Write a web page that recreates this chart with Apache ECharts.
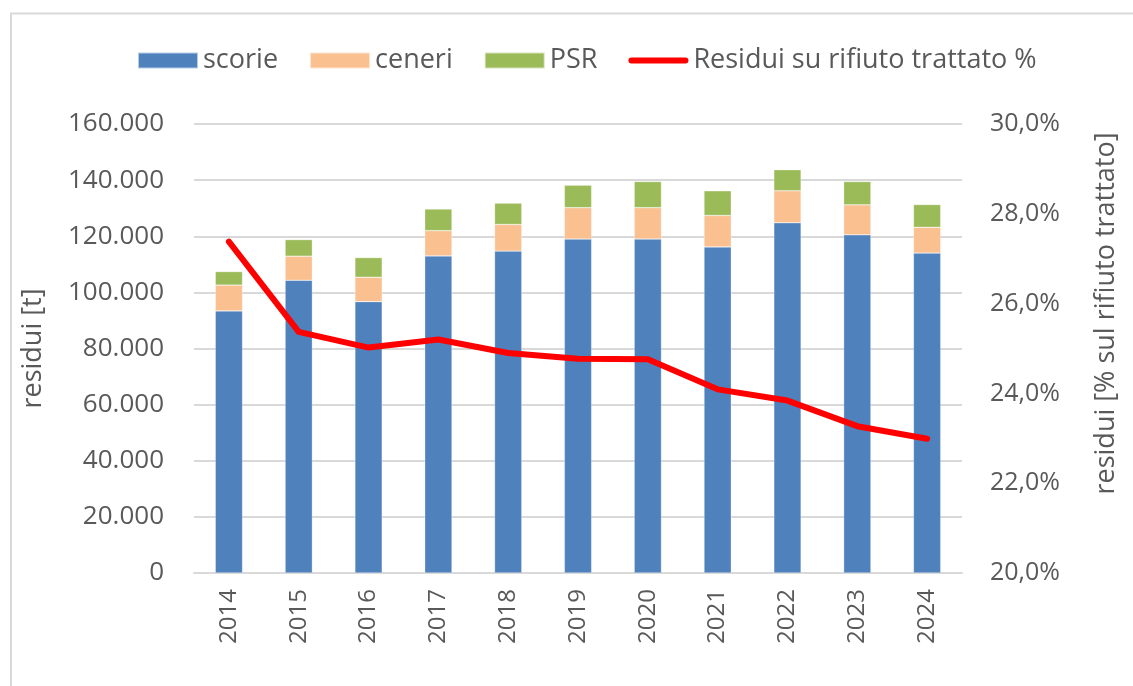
<!DOCTYPE html>
<html>
<head>
<meta charset="utf-8">
<script src="https://cdn.jsdelivr.net/npm/echarts@6/dist/echarts.min.js"></script>
<style>
  html, body { margin: 0; padding: 0; background: #fff; }
  #chart { width: 1133px; height: 686px; }
</style>
</head>
<body>
<div id="chart"></div>
<script>
const years = ['2014', '2015', '2016', '2017', '2018', '2019', '2020', '2021', '2022', '2023', '2024']
// tonnellate
const scorie = [93400, 104300, 96700, 113000, 114700, 119000, 119000, 116200, 124800, 120500, 114000]
const ceneri = [9200, 8600, 8700, 9000, 9500, 11200, 11200, 11200, 11400, 10700, 9200]
const psr = [4800, 5900, 7000, 7700, 7600, 8000, 9300, 8800, 7500, 8300, 8100]
// % sul rifiuto trattato
const residuiPct = [27.38, 25.37, 25.02, 25.2, 24.9, 24.77, 24.76, 24.09, 23.84, 23.27, 22.99]

const FONT = '"Open Sans", sans-serif'
const TEXT = '#595959'
const GRID = '#d9d9d9'

function fmtThousands(v) {
  return String(v).replace(/\B(?=(\d{3})+(?!\d))/g, '.')
}

const chart = echarts.init(document.getElementById('chart'), null, { renderer: 'canvas' })

const barStyle = (color) => ({ color, borderColor: 'rgba(255,255,255,0.6)', borderWidth: 0.5 })

chart.setOption({
  animation: false,
  textStyle: { fontFamily: FONT },
  graphic: [
    {
      type: 'rect',
      shape: { x: 11, y: 13.5, width: 1200, height: 800 },
      style: { fill: 'none', stroke: GRID, lineWidth: 2 },
      silent: true,
    },
  ],
  legend: {
    top: 42,
    left: 132,
    itemWidth: 60,
    itemHeight: 16,
    itemGap: 31,
    textStyle: { color: TEXT, fontSize: 27, fontFamily: FONT },
    data: [
      { name: 'scorie', icon: 'rect' },
      { name: 'ceneri', icon: 'rect' },
      { name: 'PSR', icon: 'rect' },
      {
        name: 'Residui su rifiuto trattato %',
        icon: 'path://M3,0 H57 A3,3 0 0 1 57,6 H3 A3,3 0 0 1 3,0 Z',
      },
    ],
  },
  grid: { left: 194, right: 171, top: 124, bottom: 113 },
  xAxis: {
    type: 'category',
    data: years,
    axisLine: { lineStyle: { color: GRID, width: 2 } },
    axisTick: { show: false },
    axisLabel: { rotate: 90, color: TEXT, fontSize: 24, margin: 16, fontFamily: FONT },
  },
  yAxis: [
    {
      type: 'value',
      min: 0,
      max: 160000,
      interval: 20000,
      name: 'residui [t]',
      nameLocation: 'middle',
      nameGap: 147,
      nameTextStyle: { color: TEXT, fontSize: 27, fontFamily: FONT },
      axisLine: { show: false },
      axisTick: { show: false },
      splitLine: { lineStyle: { color: GRID, width: 2 } },
      axisLabel: { color: TEXT, fontSize: 26, margin: 30, fontFamily: FONT, formatter: fmtThousands },
    },
    {
      type: 'value',
      min: 20,
      max: 30,
      interval: 2,
      position: 'right',
      name: 'residui [% sul rifiuto trattato]',
      nameLocation: 'middle',
      nameGap: 131,
      nameRotate: 90,
      nameTextStyle: { color: TEXT, fontSize: 27, fontFamily: FONT, padding: [0, 0, 0, 70] },
      axisLine: { show: false },
      axisTick: { show: false },
      splitLine: { show: false },
      axisLabel: {
        color: TEXT,
        fontSize: 25,
        margin: 28,
        fontFamily: FONT,
        formatter: (v) => v.toFixed(1).replace('.', ',') + '%',
      },
    },
  ],
  series: [
    { name: 'scorie', type: 'bar', stack: 'tot', barWidth: '39%', data: scorie, itemStyle: barStyle('#4f81bd') },
    { name: 'ceneri', type: 'bar', stack: 'tot', data: ceneri, itemStyle: barStyle('#fac090') },
    { name: 'PSR', type: 'bar', stack: 'tot', data: psr, itemStyle: barStyle('#9bbb59') },
    {
      name: 'Residui su rifiuto trattato %',
      type: 'line',
      yAxisIndex: 1,
      data: residuiPct,
      symbol: 'none',
      itemStyle: { color: '#ff0000' },
      lineStyle: { color: '#ff0000', width: 6, cap: 'round', join: 'round' },
    },
  ],
})
</script>
</body>
</html>
